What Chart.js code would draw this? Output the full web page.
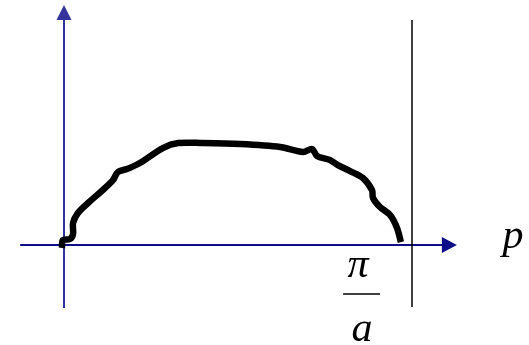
<!DOCTYPE html>
<html><head><meta charset="utf-8">
<script src="https://cdn.jsdelivr.net/npm/chart.js@4/dist/chart.umd.min.js"></script>
<style>html,body{margin:0;padding:0;background:#fff;}canvas{display:block;}</style>
</head><body>
<canvas id="c" width="529" height="345"></canvas>
<script>
// Momentum p (in units of pi/a) and curve height (arbitrary units)
const momentum = [-0.006,-0.003,0.017,0.026,0.026,0.040,0.069,0.118,0.141,0.155,0.181,0.218,0.284,0.328,0.399,0.506,0.621,0.687,0.713,0.727,0.764,0.787,0.822,0.859,0.885,0.888,0.908,0.937,0.957,0.968];
const height   = [-0.029,0.049,0.059,0.108,0.216,0.314,0.412,0.559,0.637,0.716,0.745,0.804,0.951,1.000,1.000,0.990,0.961,0.912,0.941,0.873,0.833,0.784,0.725,0.657,0.539,0.461,0.373,0.294,0.167,0.029];
const boundary = 1.0;       // p = pi/a
const axisLabel = "p";
const boundaryNum = "π";
const boundaryDen = "a";

const points = momentum.map((x,i)=>({x:x,y:height[i]}));

const axesPlugin = {
  id:'axes',
  beforeDatasetsDraw(chart){
    const xs=chart.scales.x, ys=chart.scales.y, ctx=chart.ctx;
    const X=v=>xs.getPixelForValue(v), Y=v=>ys.getPixelForValue(v);
    ctx.save();
    // horizontal axis
    const y0=Y(0), xl=X(-0.126), xt=X(1.129);
    ctx.strokeStyle='#0d0d88'; ctx.fillStyle='#0d0d88'; ctx.lineWidth=2;
    ctx.beginPath(); ctx.moveTo(xl,y0); ctx.lineTo(xt-12,y0); ctx.stroke();
    ctx.beginPath(); ctx.moveTo(xt,y0); ctx.lineTo(xt-15,y0-8); ctx.lineTo(xt-15,y0+8); ctx.closePath(); ctx.fill();
    // vertical axis
    const x0=X(0), yb=Y(-0.618), yt=Y(2.353);
    ctx.strokeStyle='#333399'; ctx.fillStyle='#333399';
    ctx.beginPath(); ctx.moveTo(x0,yb); ctx.lineTo(x0,yt+12); ctx.stroke();
    ctx.beginPath(); ctx.moveTo(x0,yt); ctx.lineTo(x0-7.5,yt+15); ctx.lineTo(x0+7.5,yt+15); ctx.closePath(); ctx.fill();
    // boundary line at pi/a
    const xb=X(boundary);
    ctx.strokeStyle='#000'; ctx.lineWidth=1.5;
    ctx.beginPath(); ctx.moveTo(xb,Y(2.206)); ctx.lineTo(xb,Y(-0.608)); ctx.stroke();
    // labels
    ctx.fillStyle='#000'; ctx.textAlign='center'; ctx.textBaseline='alphabetic';
    ctx.font='italic 42px "Liberation Serif"';
    ctx.fillText(axisLabel, X(1.29), y0+3);
    ctx.font='italic 42px "Liberation Serif"';
    ctx.fillText(boundaryNum, X(0.845), Y(-0.31));
    ctx.font='italic 42px "Liberation Serif"';
    ctx.fillText(boundaryDen, X(0.856), Y(-0.94));
    ctx.lineWidth=1.5;
    ctx.beginPath(); ctx.moveTo(X(0.802),Y(-0.48)); ctx.lineTo(X(0.908),Y(-0.48)); ctx.stroke();
    ctx.restore();
  }
};

new Chart(document.getElementById('c'),{
  type:'scatter',
  data:{datasets:[{data:points,showLine:true,borderColor:'#000',borderWidth:6.5,pointRadius:0,tension:0.3,fill:false,borderCapStyle:'butt',borderJoinStyle:'round'}]},
  options:{
    responsive:false,animation:false,
    layout:{padding:0},
    plugins:{legend:{display:false},tooltip:{enabled:false}},
    scales:{
      x:{type:'linear',display:false,min:-0.1839,max:1.3362},
      y:{type:'linear',display:false,min:-0.980,max:2.402}
    }
  },
  plugins:[axesPlugin]
});
</script>
</body></html>
